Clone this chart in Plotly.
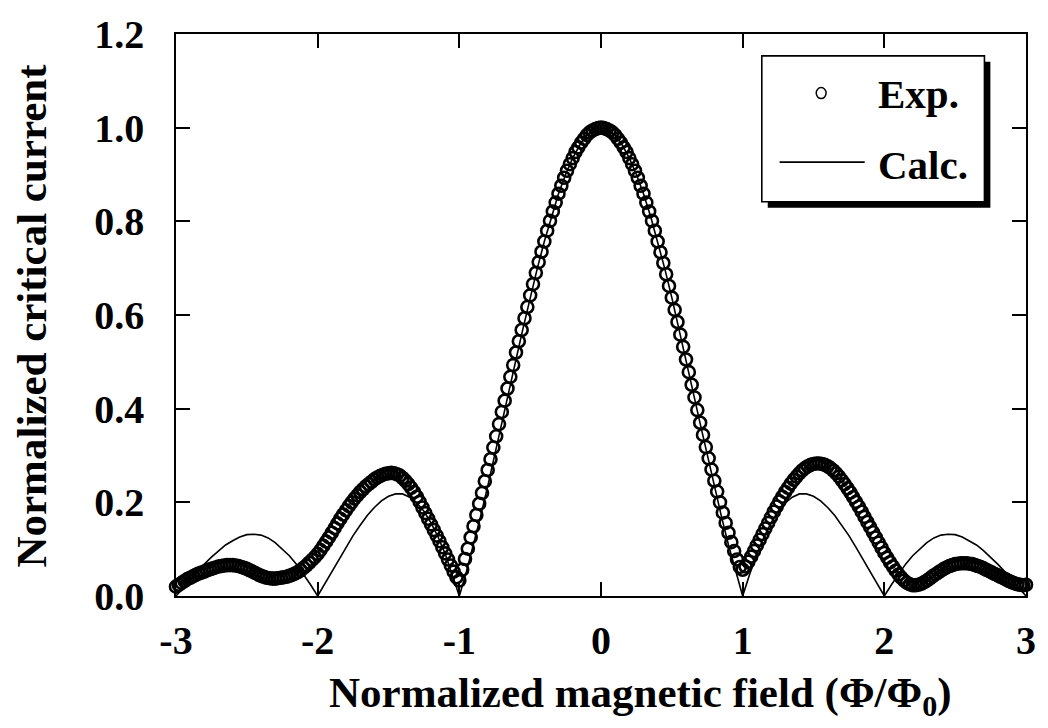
import plotly.graph_objects as go

# ---------------- data ----------------
exp_x = [
    -3.00, -2.98, -2.96, -2.94, -2.92, -2.90, -2.88, -2.86, -2.84, -2.82,
    -2.80, -2.78, -2.76, -2.74, -2.72, -2.70, -2.68, -2.66, -2.64, -2.62,
    -2.60, -2.58, -2.56, -2.54, -2.52, -2.50, -2.48, -2.46, -2.44, -2.42,
    -2.40, -2.38, -2.36, -2.34, -2.32, -2.30, -2.28, -2.26, -2.24, -2.22,
    -2.20, -2.18, -2.16, -2.14, -2.12, -2.10, -2.08, -2.06, -2.04, -2.02,
    -2.00,
    -1.98, -1.96, -1.94, -1.92, -1.90, -1.88, -1.86, -1.84, -1.82, -1.80,
    -1.78, -1.76, -1.74, -1.72, -1.70, -1.68, -1.66, -1.64, -1.62, -1.60,
    -1.58, -1.56, -1.54, -1.52, -1.50, -1.48, -1.46, -1.44, -1.42, -1.40,
    -1.38, -1.36, -1.34, -1.32, -1.30, -1.28, -1.26, -1.24, -1.22, -1.20,
    -1.18, -1.16, -1.14, -1.12, -1.10, -1.08, -1.06, -1.04, -1.02, -1.00,
    -0.98, -0.96, -0.94, -0.92, -0.90, -0.88, -0.86, -0.84, -0.82, -0.80,
    -0.78, -0.76, -0.74, -0.72, -0.70, -0.68, -0.66, -0.64, -0.62, -0.60,
    -0.58, -0.56, -0.54, -0.52, -0.50, -0.48, -0.46, -0.44, -0.42, -0.40,
    -0.38, -0.36, -0.34, -0.32, -0.30, -0.28, -0.26, -0.24, -0.22, -0.20,
    -0.18, -0.16, -0.14, -0.12, -0.10, -0.08, -0.06, -0.04, -0.02, 0.00,
    0.02, 0.04, 0.06, 0.08, 0.10, 0.12, 0.14, 0.16, 0.18, 0.20,
    0.22, 0.24, 0.26, 0.28, 0.30, 0.32, 0.34, 0.36, 0.38, 0.40,
    0.42, 0.44, 0.46, 0.48, 0.50, 0.52, 0.54, 0.56, 0.58, 0.60,
    0.62, 0.64, 0.66, 0.68, 0.70, 0.72, 0.74, 0.76, 0.78, 0.80,
    0.82, 0.84, 0.86, 0.88, 0.90, 0.92, 0.94, 0.96, 0.98, 1.00,
    1.02, 1.04, 1.06, 1.08, 1.10, 1.12, 1.14, 1.16, 1.18, 1.20,
    1.22, 1.24, 1.26, 1.28, 1.30, 1.32, 1.34, 1.36, 1.38, 1.40,
    1.42, 1.44, 1.46, 1.48, 1.50, 1.52, 1.54, 1.56, 1.58, 1.60,
    1.62, 1.64, 1.66, 1.68, 1.70, 1.72, 1.74, 1.76, 1.78, 1.80,
    1.82, 1.84, 1.86, 1.88, 1.90, 1.92, 1.94, 1.96, 1.98, 2.00,
    2.02, 2.04, 2.06, 2.08, 2.10, 2.12, 2.14, 2.16, 2.18, 2.20,
    2.22, 2.24, 2.26, 2.28, 2.30, 2.32, 2.34, 2.36, 2.38, 2.40,
    2.42, 2.44, 2.46, 2.48, 2.50, 2.52, 2.54, 2.56, 2.58, 2.60,
    2.62, 2.64, 2.66, 2.68, 2.70, 2.72, 2.74, 2.76, 2.78, 2.80,
    2.82, 2.84, 2.86, 2.88, 2.90, 2.92, 2.94, 2.96, 2.98, 3.00,
]
exp_y = [
    0.020, 0.024, 0.028, 0.032, 0.036, 0.039, 0.042, 0.045, 0.048, 0.050,
    0.052, 0.055, 0.057, 0.059, 0.061, 0.063, 0.064, 0.065, 0.066, 0.066,
    0.066, 0.065, 0.064, 0.062, 0.060, 0.058, 0.055, 0.052, 0.049, 0.046,
    0.043, 0.041, 0.039, 0.038, 0.037, 0.037, 0.038, 0.039, 0.040, 0.041,
    0.043, 0.045, 0.048, 0.051, 0.055, 0.060, 0.065, 0.071, 0.077, 0.083,
    0.090,
    0.098, 0.107, 0.116, 0.125, 0.135, 0.145, 0.155, 0.165, 0.174, 0.183,
    0.192, 0.200, 0.208, 0.215, 0.222, 0.228, 0.234, 0.239, 0.244, 0.249,
    0.253, 0.256, 0.259, 0.261, 0.262, 0.263, 0.262, 0.260, 0.257, 0.252,
    0.246, 0.239, 0.231, 0.222, 0.212, 0.201, 0.189, 0.177, 0.165, 0.153,
    0.141, 0.129, 0.117, 0.104, 0.091, 0.078, 0.065, 0.052, 0.040, 0.033,
    0.056, 0.079, 0.101, 0.125, 0.149, 0.173, 0.197, 0.220, 0.245, 0.269,
    0.292, 0.317, 0.341, 0.367, 0.393, 0.417, 0.443, 0.468, 0.493, 0.520,
    0.544, 0.568, 0.593, 0.617, 0.642, 0.666, 0.690, 0.713, 0.735, 0.757,
    0.780, 0.801, 0.821, 0.840, 0.859, 0.876, 0.893, 0.908, 0.922, 0.935,
    0.948, 0.958, 0.968, 0.976, 0.984, 0.990, 0.994, 0.997, 0.999, 1.000,
    0.999, 0.997, 0.994, 0.990, 0.984, 0.976, 0.968, 0.958, 0.948, 0.935,
    0.922, 0.908, 0.893, 0.876, 0.859, 0.840, 0.821, 0.801, 0.780, 0.757,
    0.734, 0.711, 0.687, 0.662, 0.637, 0.611, 0.585, 0.558, 0.532, 0.505,
    0.478, 0.451, 0.424, 0.397, 0.370, 0.344, 0.318, 0.294, 0.270, 0.246,
    0.223, 0.200, 0.178, 0.156, 0.135, 0.115, 0.096, 0.078, 0.062, 0.056,
    0.063, 0.073, 0.084, 0.096, 0.108, 0.120, 0.132, 0.144, 0.156, 0.168,
    0.180, 0.191, 0.202, 0.212, 0.222, 0.231, 0.240, 0.248, 0.255, 0.262,
    0.268, 0.273, 0.277, 0.280, 0.282, 0.283, 0.283, 0.282, 0.280, 0.277,
    0.273, 0.268, 0.262, 0.255, 0.247, 0.239, 0.230, 0.221, 0.211, 0.201,
    0.191, 0.180, 0.169, 0.158, 0.147, 0.136, 0.125, 0.114, 0.103, 0.092,
    0.082, 0.072, 0.063, 0.054, 0.046, 0.039, 0.033, 0.028, 0.025, 0.023,
    0.023, 0.024, 0.026, 0.029, 0.033, 0.037, 0.042, 0.046, 0.050, 0.054,
    0.058, 0.061, 0.064, 0.066, 0.068, 0.069, 0.070, 0.070, 0.070, 0.069,
    0.068, 0.066, 0.064, 0.062, 0.059, 0.056, 0.053, 0.050, 0.047, 0.044,
    0.041, 0.038, 0.035, 0.032, 0.029, 0.027, 0.025, 0.024, 0.023, 0.024,
]

calc_x = [
    -3.00, -2.95, -2.90, -2.85, -2.80, -2.75, -2.70, -2.65, -2.60, -2.55,
    -2.50, -2.45, -2.40, -2.35, -2.30, -2.25, -2.20, -2.15, -2.10, -2.05,
    -2.00, -1.95, -1.90, -1.85, -1.80, -1.75, -1.70, -1.65, -1.60, -1.55,
    -1.50, -1.45, -1.40, -1.35, -1.30, -1.25, -1.20, -1.15, -1.10, -1.05,
    -1.00, -0.95, -0.90, -0.85, -0.80, -0.75, -0.70, -0.65, -0.60, -0.55,
    -0.50, -0.45, -0.40, -0.35, -0.30, -0.25, -0.20, -0.15, -0.10, -0.05,
    0.00, 0.05, 0.10, 0.15, 0.20, 0.25, 0.30, 0.35, 0.40, 0.45,
    0.50, 0.55, 0.60, 0.65, 0.70, 0.75, 0.80, 0.85, 0.90, 0.95,
    1.00, 1.05, 1.10, 1.15, 1.20, 1.25, 1.30, 1.35, 1.40, 1.45,
    1.50, 1.55, 1.60, 1.65, 1.70, 1.75, 1.80, 1.85, 1.90, 1.95,
    2.00, 2.05, 2.10, 2.15, 2.20, 2.25, 2.30, 2.35, 2.40, 2.45,
    2.50, 2.55, 2.60, 2.65, 2.70, 2.75, 2.80, 2.85, 2.90, 2.95,
    3.00,
]
calc_y = [
    0.000, 0.017, 0.034, 0.052, 0.068, 0.083, 0.097, 0.109, 0.118, 0.126,
    0.131, 0.132, 0.130, 0.124, 0.114, 0.101, 0.086, 0.068, 0.047, 0.024,
    0.000, 0.026, 0.052, 0.078, 0.104, 0.129, 0.151, 0.172, 0.189, 0.203,
    0.213, 0.218, 0.218, 0.211, 0.199, 0.181, 0.156, 0.126, 0.090, 0.047,
    0.000, 0.052, 0.109, 0.170, 0.234, 0.300, 0.368, 0.436, 0.505, 0.572,
    0.637, 0.699, 0.757, 0.811, 0.859, 0.900, 0.935, 0.963, 0.984, 0.996,
    1.000, 0.996, 0.984, 0.963, 0.935, 0.900, 0.859, 0.811, 0.757, 0.699,
    0.637, 0.572, 0.505, 0.436, 0.368, 0.300, 0.234, 0.170, 0.109, 0.052,
    0.000, 0.047, 0.090, 0.126, 0.156, 0.181, 0.199, 0.211, 0.218, 0.218,
    0.213, 0.203, 0.189, 0.172, 0.151, 0.129, 0.104, 0.078, 0.052, 0.026,
    0.000, 0.024, 0.047, 0.068, 0.086, 0.101, 0.114, 0.124, 0.130, 0.132,
    0.131, 0.126, 0.118, 0.109, 0.097, 0.083, 0.068, 0.052, 0.034, 0.017,
    0.000,
]

x_ticks = [-3, -2, -1, 0, 1, 2, 3]
x_labels = ["-3", "-2", "-1", "0", "1", "2", "3"]
y_ticks = [0.0, 0.2, 0.4, 0.6, 0.8, 1.0, 1.2]
y_labels = ["0.0", "0.2", "0.4", "0.6", "0.8", "1.0", "1.2"]

# ---------------- layout geometry (pixels) ----------------
W, H = 1048, 728
L, R, T, B = 176, 1035, 30, 596  # plot area edges in px
FONT = "Liberation Serif"


def px(x):
    return (x - L) / (R - L)


def py(y):
    return (B - y) / (B - T)


fig = go.Figure()

fig.add_trace(go.Scatter(
    x=calc_x, y=calc_y, mode="lines", name="Calc.",
    line=dict(color="black", width=1.6),
))
fig.add_trace(go.Scatter(
    x=exp_x, y=exp_y, mode="markers", name="Exp.",
    marker=dict(symbol="circle-open", size=12, color="black",
                line=dict(width=2.6, color="black")),
    cliponaxis=False,
))

axis_common = dict(
    ticks="inside", ticklen=14, tickwidth=1.5, tickcolor="black",
    showline=True, linewidth=1.6, linecolor="black", mirror="allticks",
    showgrid=False, zeroline=False,
    tickfont=dict(family=FONT, size=40, color="black", weight="bold"),
)

fig.update_xaxes(range=[-3, 3], tickmode="array", tickvals=x_ticks,
                 ticktext=x_labels, ticklabelstandoff=8, **axis_common)
fig.update_yaxes(range=[0, 1.2], tickmode="array", tickvals=y_ticks,
                 ticktext=y_labels, ticklabelstandoff=22, **axis_common)

shapes = [
    # legend shadow
    dict(type="rect", xref="paper", yref="paper",
         x0=px(774), x1=px(999), y0=py(58), y1=py(205),
         fillcolor="black", line=dict(width=0)),
    # legend box
    dict(type="rect", xref="paper", yref="paper",
         x0=px(768), x1=px(993), y0=py(52), y1=py(199),
         fillcolor="white", line=dict(color="black", width=1.6)),
    # legend symbols
    dict(type="circle", xref="paper", yref="paper",
         x0=px(823), x1=px(833), y0=py(84), y1=py(95),
         line=dict(color="black", width=1.5)),
    dict(type="line", xref="paper", yref="paper",
         x0=px(786), x1=px(872), y0=py(159), y1=py(159),
         line=dict(color="black", width=1.6)),
]

annotations = [
    dict(text="Exp.", xref="paper", yref="paper", x=px(883), y=py(90),
         xanchor="left", yanchor="middle", showarrow=False,
         font=dict(family=FONT, size=41, color="black", weight="bold")),
    dict(text="Calc.", xref="paper", yref="paper", x=px(883), y=py(162),
         xanchor="left", yanchor="middle", showarrow=False,
         font=dict(family=FONT, size=41, color="black", weight="bold")),
    dict(text="Normalized magnetic field (Φ/Φ<sub>0</sub>)",
         xref="paper", yref="paper", x=px(645), y=py(697),
         xanchor="center", yanchor="middle", showarrow=False,
         font=dict(family=FONT, size=43, color="black", weight="bold")),
    dict(text="Normalized critical current", textangle=-90,
         xref="paper", yref="paper", x=px(30), y=py(314),
         xanchor="center", yanchor="middle", showarrow=False,
         font=dict(family=FONT, size=43, color="black", weight="bold")),
]

fig.update_layout(
    width=W, height=H,
    margin=dict(l=L, r=W - R, t=T, b=H - B, pad=0),
    plot_bgcolor="white", paper_bgcolor="white",
    showlegend=False,
    shapes=shapes, annotations=annotations,
)

fig.write_html("out.html")
